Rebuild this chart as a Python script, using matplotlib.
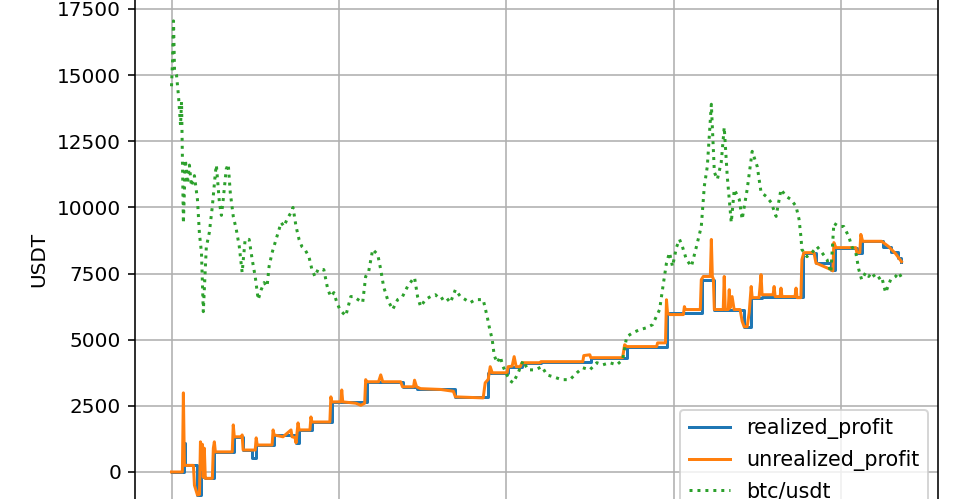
import matplotlib
matplotlib.use("Agg")
import matplotlib.pyplot as plt

# btc/usdt close, x = 4h candle index
btc_idx = [0, 6, 12, 18, 30, 42, 54, 60, 71, 83, 95, 107, 119, 137, 155, 167, 179, 190,
           208, 226, 244, 262, 268, 286, 298, 309, 327, 339, 351, 369, 387, 405, 422, 440,
           464, 482, 500, 518, 536, 553, 571, 583, 601, 619, 637, 655, 672, 690, 714, 726,
           744, 762, 779, 797, 821, 839, 857, 875, 893, 910, 934, 952, 970, 988, 1006, 1023,
           1041, 1071, 1089, 1113, 1142, 1160, 1178, 1202, 1232, 1250, 1267, 1291, 1321, 1351,
           1380, 1410, 1440, 1452, 1470, 1488, 1517, 1547, 1577, 1607, 1636, 1666, 1696, 1726,
           1755, 1785, 1815, 1845, 1862, 1886, 1898, 1916, 1928, 1946, 1964, 1981, 2005, 2023,
           2041, 2071, 2100, 2130, 2172, 2213, 2243, 2279, 2332, 2380, 2422, 2457, 2499, 2541,
           2576, 2618, 2660, 2695, 2719, 2755, 2797, 2838, 2874, 2916, 2933, 2957, 2975, 2993,
           3017, 3035, 3052, 3076, 3106, 3136, 3165, 3183, 3201, 3225, 3243, 3261, 3284, 3302,
           3320, 3344, 3362, 3392, 3409, 3439, 3469, 3499, 3522, 3552, 3582, 3612, 3641, 3671,
           3701, 3731, 3749, 3760, 3766, 3796, 3826, 3856, 3886, 3916, 3939, 3957, 3987, 4016,
           4046, 4064, 4088, 4106, 4123, 4147, 4165, 4183, 4213, 4242, 4266, 4296, 4326, 4344,
           4361]
btc_price = [14580, 15500, 17050, 15200, 15000, 14200, 13100, 14000, 9400, 11800, 10900, 11600,
             10800, 11200, 10300, 9000, 8300, 6060, 8500, 9050, 10040, 11300, 11600, 10200, 9700,
             10300, 11450, 11630, 10570, 9660, 9170, 8520, 7540, 8790, 8790, 8030, 7390, 6515,
             6890, 7160, 7010, 7770, 8290, 8670, 9050, 9430, 9280, 9550, 9810, 10000, 9280, 8790,
             8520, 8410, 8140, 7650, 7390, 7650, 7650, 7650, 6890, 6630, 6780, 6400, 6140, 6020,
             5900, 6630, 6630, 6520, 6400, 7390, 7580, 8410, 8220, 7650, 7010, 6515, 6140, 6515,
             6630, 7010, 7270, 7350, 6630, 6250, 6515, 6630, 6700, 6515, 6630, 6400, 6890, 6630,
             6515, 6400, 6515, 6515, 6515, 5870, 5490, 5000, 4400, 4130, 4360, 3980, 3650, 3450,
             3370, 3750, 4200, 3860, 3860, 3980, 3670, 3600, 3490, 3490, 3750, 3940, 3860, 4130,
             4050, 4130, 4050, 4240, 5110, 5260, 5380, 5450, 5570, 6140, 6890, 7900, 8290, 7770,
             8500, 8790, 8520, 8030, 7770, 8520, 9280, 10800, 11550, 13900, 11330, 11060, 11700,
             13030, 11180, 9430, 10680, 10300, 9550, 10680, 12120, 11550, 10570, 10420, 10190,
             9660, 10680, 10420, 10300, 10040, 9550, 8900, 8410, 8140, 8290, 8520, 8290, 8030,
             7540, 9400, 9280, 9280, 8900, 8520, 8290, 7650, 7270, 7540, 7390, 7540, 7270, 7390,
             6780, 7270, 7390, 7540, 7350]

real_idx = [0, 77, 83, 155, 175, 190, 202, 256, 375, 428, 482, 506, 613, 744, 762, 839, 958,
            1166, 1380, 1464, 1696, 1892, 2011, 2094, 2207, 2505, 2719, 2963, 3171, 3243, 3421,
            3463, 3528, 3772, 3850, 3939, 3963, 4094, 4124, 4250, 4300, 4340, 4361]
real_val = [0, 1100, 250, -870, 100, -200, -240, 760, 1330, 830, 530, 1020, 1400, 1100, 1590,
            1890, 2650, 3410, 3220, 3150, 2840, 3750, 3980, 4130, 4170, 4320, 4740, 6020, 7270,
            6140, 5490, 6590, 6630, 8290, 7900, 7650, 8480, 8290, 8720, 8520, 8300, 8100, 7950]

unreal_idx = [0, 65, 71, 77, 131, 137, 155, 167, 173, 179, 184, 190, 196, 202, 244, 250, 256,
              262, 363, 369, 375, 417, 422, 428, 500, 506, 512, 601, 607, 613, 666, 714, 720,
              738, 744, 756, 762, 827, 833, 839, 946, 952, 958, 1012, 1017, 1023, 1101, 1131,
              1154, 1160, 1166, 1237, 1250, 1262, 1369, 1380, 1446, 1452, 1464, 1488, 1607, 1684,
              1696, 1862, 1874, 1892, 1904, 1916, 2005, 2011, 2035, 2047, 2059, 2083, 2094, 2202,
              2207, 2457, 2463, 2499, 2505, 2695, 2707, 2719, 2898, 2904, 2951, 2957, 2963, 2975,
              3058, 3064, 3070, 3159, 3165, 3177, 3219, 3225, 3231, 3237, 3243, 3296, 3302, 3308,
              3326, 3332, 3337, 3349, 3361, 3397, 3409, 3421, 3439, 3451, 3463, 3469, 3510, 3522,
              3528, 3594, 3600, 3606, 3636, 3641, 3647, 3725, 3731, 3737, 3760, 3766, 3778, 3838,
              3850, 3939, 3951, 3957, 3969, 4088, 4094, 4112, 4118, 4129, 4242, 4284, 4326, 4361]
unreal_val = [0, 0, 2990, 250, 250, -500, -870, -850, 1140, 100, 1050, -200, 900, -240, -240,
              900, 1140, 760, 760, 1780, 1330, 1330, 1400, 830, 830, 1290, 1020, 1020, 1590,
              1400, 1330, 1590, 1330, 1300, 1100, 1855, 1590, 1590, 2080, 1890, 1890, 2840, 2650,
              2650, 3100, 2650, 2600, 2520, 2600, 3490, 3410, 3410, 3670, 3410, 3410, 3220, 3220,
              3470, 3220, 3150, 3120, 3050, 2840, 2800, 3370, 3500, 3980, 3750, 3750, 3980, 4000,
              4360, 3980, 3980, 4130, 4130, 4170, 4170, 4400, 4430, 4320, 4320, 4810, 4740, 4740,
              4880, 4880, 6510, 6020, 5950, 5950, 6250, 6140, 6140, 7270, 7390, 7390, 8790, 7390,
              7300, 6140, 6140, 7390, 6140, 6140, 6890, 6200, 6630, 6140, 6140, 5700, 5490, 5490,
              6020, 7010, 6590, 6590, 7460, 6700, 6700, 7010, 6630, 6630, 6950, 6630, 6630, 6950,
              6590, 6590, 8030, 8290, 8290, 7900, 7650, 7600, 8670, 8480, 8480, 8290, 8290, 8980,
              8720, 8720, 8520, 8250, 7950]

fig = plt.figure(figsize=(960 / 144, 499 / 144), dpi=144)
# the picture is a crop: axes run past the top and bottom edge
ax = fig.add_axes([135 / 960, -0.0413, 803 / 960, 1.0445])

ax.plot(real_idx, real_val, drawstyle="steps-post", label="realized_profit")
ax.plot(unreal_idx, unreal_val, label="unrealized_profit")
ax.plot(btc_idx, btc_price, ":", label="btc/usdt")

ax.set_ylim(-1800, 17900)
ax.set_yticks([0, 2500, 5000, 7500, 10000, 12500, 15000, 17500])
ax.set_xticks([0, 1000, 2000, 3000, 4000])
# x labels fall below the cropped edge
ax.tick_params(axis="x", labelbottom=False)
ax.set_ylabel("USDT")
ax.grid(True)
ax.legend(loc="lower right", fontsize=10.3)

fig.savefig("out.png", dpi=144)
